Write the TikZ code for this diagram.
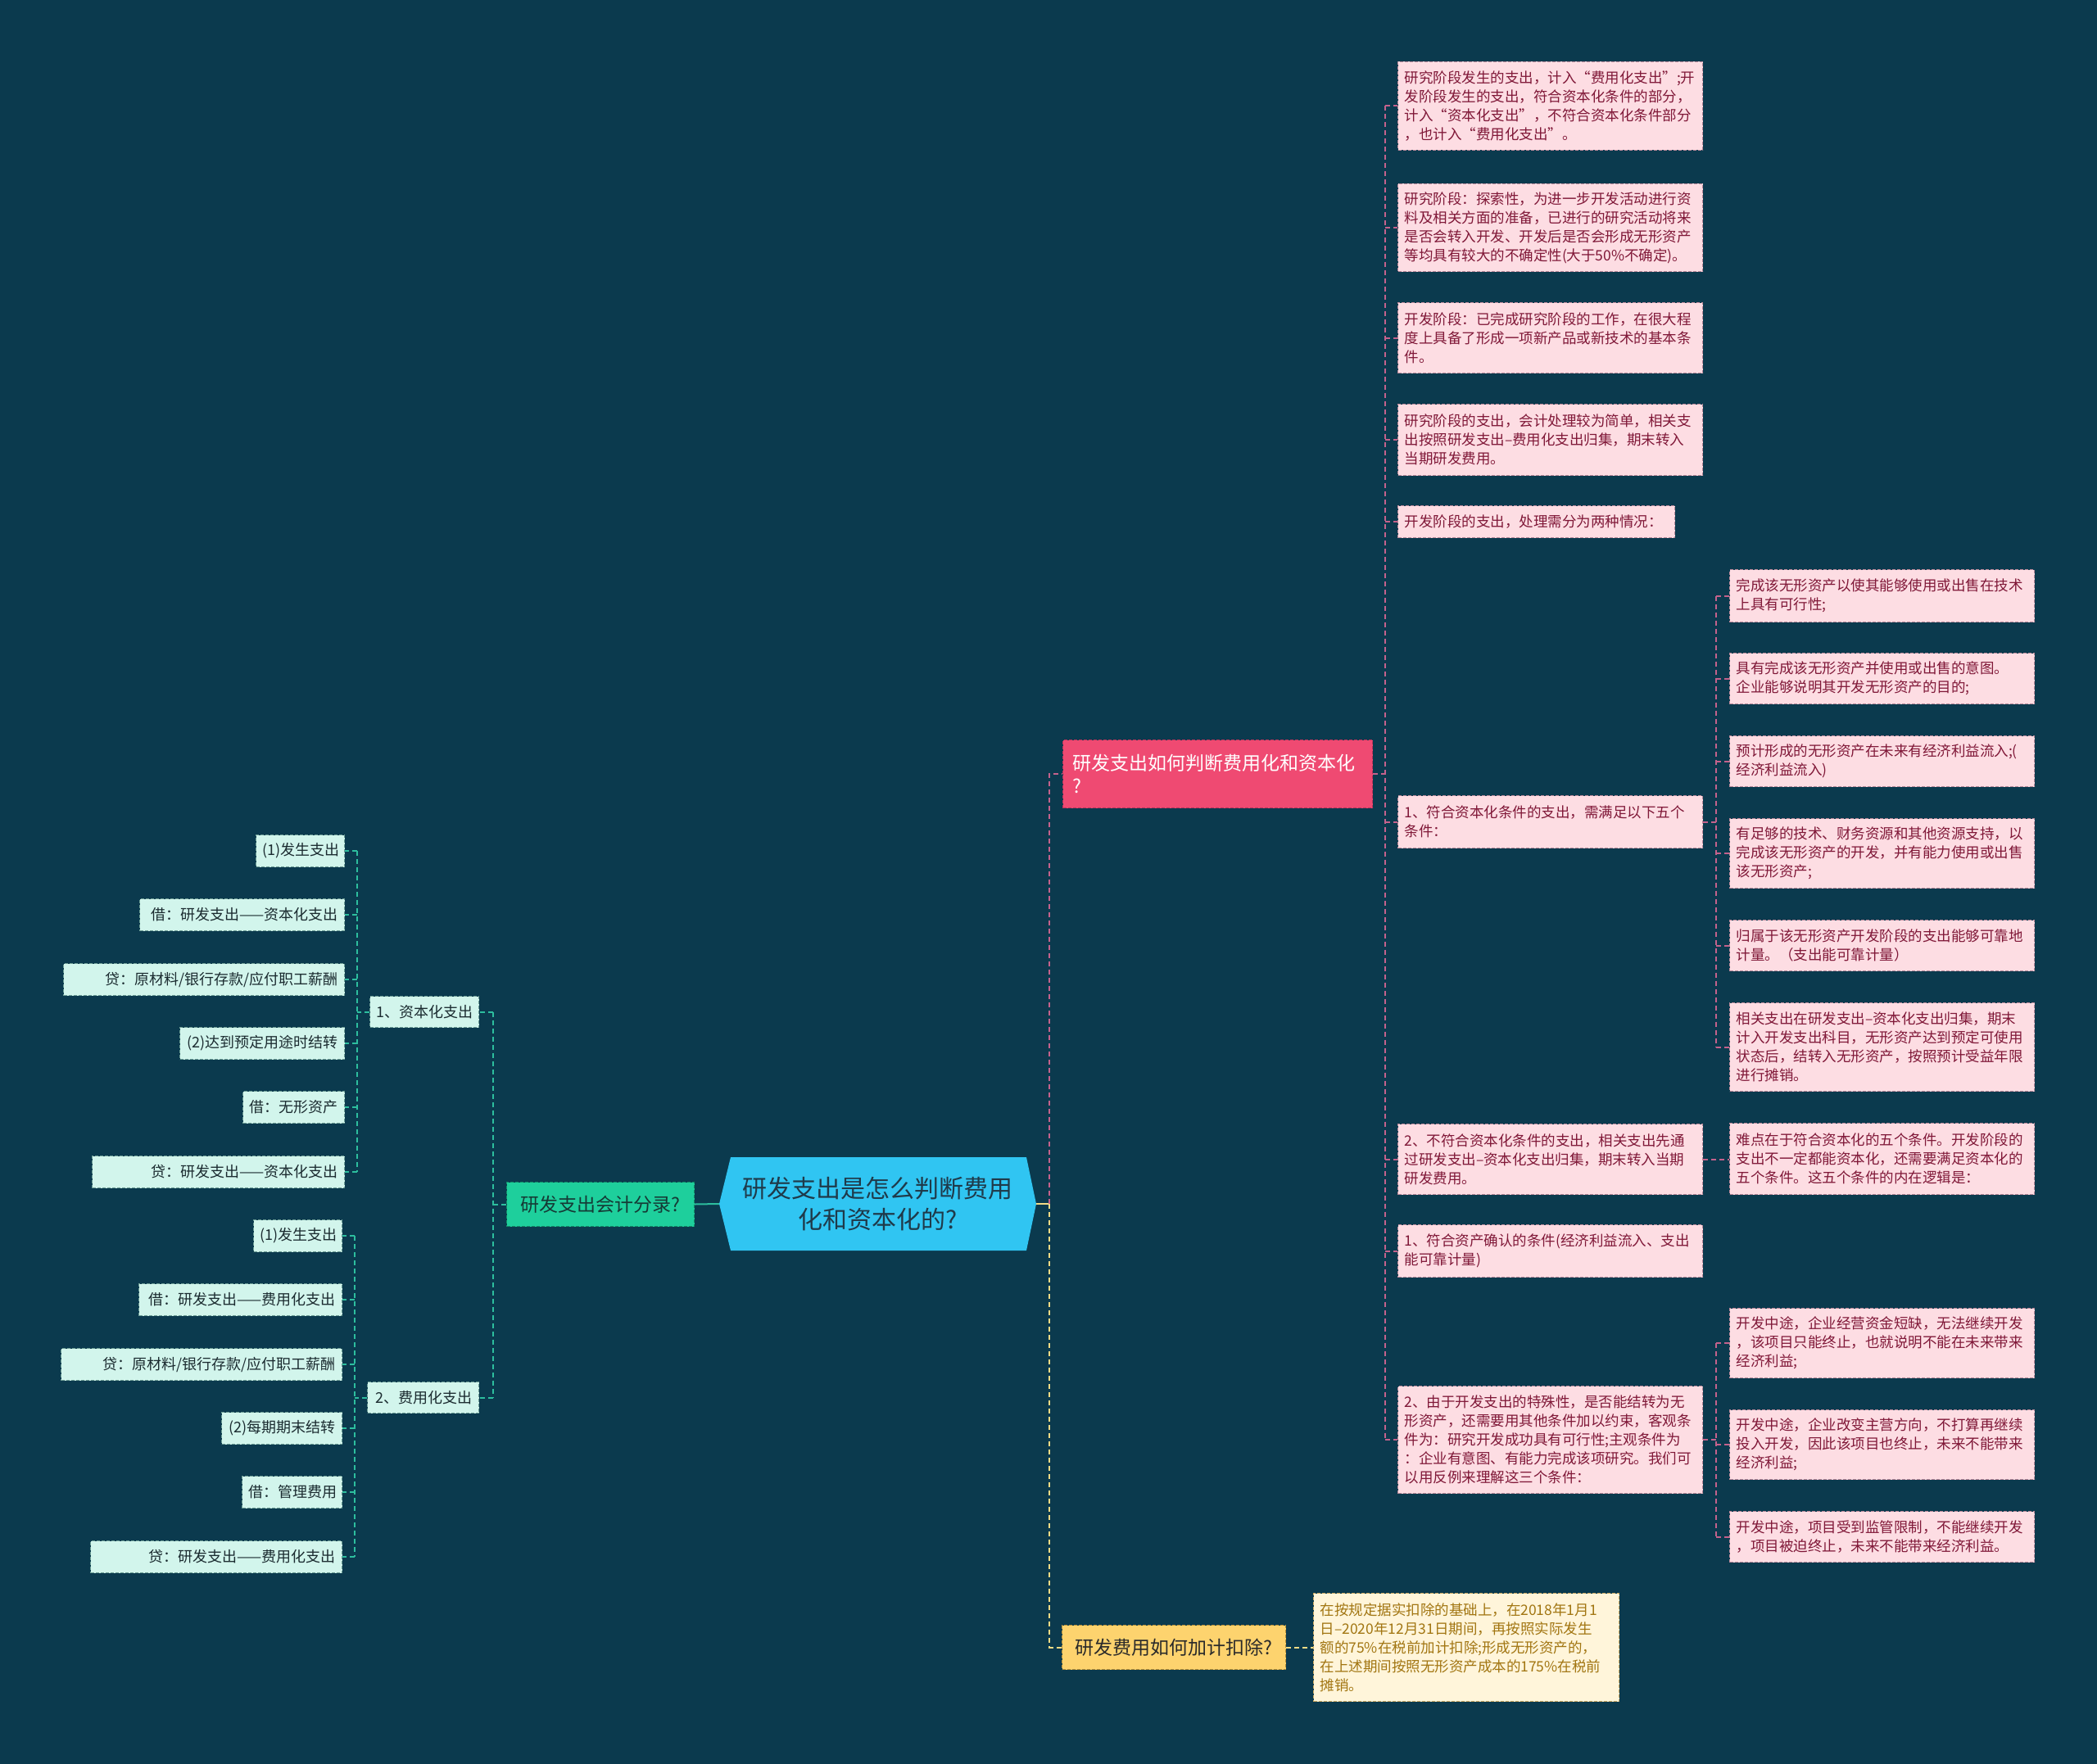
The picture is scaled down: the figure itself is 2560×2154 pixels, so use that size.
\documentclass[tikz,border=0pt]{standalone}
\usepackage{fontspec}
\setmainfont{Noto Sans CJK SC}
\definecolor{bg}{HTML}{0B3A4E}
\definecolor{centerfill}{HTML}{30C5F2}
\definecolor{centertext}{HTML}{1F3A4A}
\definecolor{pmfill}{HTML}{EF4A72}
\definecolor{pmborder}{HTML}{B8325A}
\definecolor{plfill}{HTML}{FDDDE3}
\definecolor{plborder}{HTML}{B9899A}
\definecolor{pltext}{HTML}{801838}
\definecolor{pline}{HTML}{C4628C}
\definecolor{mlfill}{HTML}{D2F5EC}
\definecolor{mlborder}{HTML}{6C9C94}
\definecolor{mltext}{HTML}{1B2B30}
\definecolor{tline}{HTML}{2DBE9E}
\definecolor{gmfill}{HTML}{1ECF9C}
\definecolor{gmborder}{HTML}{138A66}
\definecolor{gmtext}{HTML}{153A35}
\definecolor{ymfill}{HTML}{FDD36E}
\definecolor{ymborder}{HTML}{B8913A}
\definecolor{ymtext}{HTML}{2A2A2A}
\definecolor{ylfill}{HTML}{FFF5DA}
\definecolor{ylborder}{HTML}{C9A862}
\definecolor{yltext}{HTML}{A27612}
\definecolor{yline}{HTML}{F3DB85}
\tikzset{
  bordered/.style={draw, line width=1pt, dash pattern=on 4pt off 2pt, inner ysep=0pt},
  pleaf/.style={bordered, anchor=north west, fill=plfill, draw=plborder, text=pltext,
    align=left, inner xsep=8pt, text width=356pt, font=\fontsize{17.5}{23}\selectfont},
  mleaf/.style={bordered, anchor=north east, fill=mlfill, draw=mlborder, text=mltext,
    inner xsep=8pt, minimum height=39pt, align=right, font=\fontsize{18}{22}\selectfont},
  pmain/.style={bordered, anchor=north west, fill=pmfill, draw=pmborder, text=white,
    align=left, inner xsep=12pt, text width=354pt, minimum height=83pt,
    font=\fontsize{23}{28}\selectfont},
  gmain/.style={bordered, anchor=north west, fill=gmfill, draw=gmborder, text=gmtext,
    minimum width=229pt, minimum height=54pt, font=\fontsize{23}{28}\selectfont},
  ymain/.style={bordered, anchor=north west, fill=ymfill, draw=ymborder, text=ymtext,
    minimum width=273pt, minimum height=54pt, font=\fontsize{23}{28}\selectfont},
  yleaf/.style={bordered, anchor=north west, fill=ylfill, draw=ylborder, text=yltext,
    align=left, inner xsep=8pt, text width=357pt, font=\fontsize{17.5}{23}\selectfont},
  conn/.style={line width=2pt, dash pattern=on 6pt off 4pt},
  pc/.style={conn, draw=pline},
  tc/.style={conn, draw=tline},
  yc/.style={conn, draw=yline},
}
\begin{document}
\begin{tikzpicture}[x=1pt,y=-1pt]
\fill[bg] (0,0) rectangle (2560,2154);
\useasboundingbox (0,0) rectangle (2560,2154);

% center
\fill[centerfill] (878,1470) -- (892,1413) -- (1253,1413) -- (1265,1470) -- (1253,1527) -- (892,1527) -- cycle;
\node[minimum width=387pt, minimum height=114pt, inner sep=0pt, align=center, text=centertext,
  font=\fontsize{30}{38}\selectfont] (root) at (1071.5,1470) {研发支出是怎么判断费用\\化和资本化的?};

% level 1
\node[pmain] (pm) at (1297,903) {研发支出如何判断费用化和资本化\\?};
\node[gmain] (gm) at (618,1443) {研发支出会计分录?};
\node[ymain] (ym) at (1296,1984) {研发费用如何加计扣除?};

% yellow leaf
\node[yleaf, minimum height=132pt] (yl) at (1603,1945) {在按规定据实扣除的基础上，在2018年1月1\\日–2020年12月31日期间，再按照实际发生\\额的75\%在税前加计扣除;形成无形资产的，\\在上述期间按照无形资产成本的175\%在税前\\摊销。};

% left level 2
\node[mleaf, minimum height=38pt, text width=117pt] (c1) at (585,1216) {1、资本化支出};
\node[mleaf, minimum height=38pt, text width=120pt] (c2) at (585,1687) {2、费用化支出};

% capital leaves
\node[mleaf, text width=92pt] (ca1) at (421,1019) {(1)发生支出};
\node[mleaf, text width=234pt] (ca2) at (421,1097) {借：研发支出——资本化支出};
\node[mleaf, text width=327pt] (ca3) at (421,1176) {贷：原材料/银行存款/应付职工薪酬};
\node[mleaf, text width=185pt] (ca4) at (421,1254) {(2)达到预定用途时结转};
\node[mleaf, text width=108pt] (ca5) at (421,1332) {借：无形资产};
\node[mleaf, text width=292pt] (ca6) at (421,1411) {贷：研发支出——资本化支出};
% expense leaves
\node[mleaf, text width=92pt] (ea1) at (418,1489) {(1)发生支出};
\node[mleaf, text width=232pt] (ea2) at (418,1567) {借：研发支出——费用化支出};
\node[mleaf, text width=327pt] (ea3) at (418,1646) {贷：原材料/银行存款/应付职工薪酬};
\node[mleaf, text width=131pt] (ea4) at (418,1724) {(2)每期期末结转};
\node[mleaf, text width=106pt] (ea5) at (418,1802) {借：管理费用};
\node[mleaf, text width=291pt] (ea6) at (418,1881) {贷：研发支出——费用化支出};

% right column A
\node[pleaf, minimum height=108pt] (a1) at (1706,75) {研究阶段发生的支出，计入“费用化支出”;开\\发阶段发生的支出，符合资本化条件的部分，\\计入“资本化支出”，不符合资本化条件部分\\，也计入“费用化支出”。};
\node[pleaf, minimum height=107pt] (a2) at (1706,224) {研究阶段：探索性，为进一步开发活动进行资\\料及相关方面的准备，已进行的研究活动将来\\是否会转入开发、开发后是否会形成无形资产\\等均具有较大的不确定性(大于50\%不确定)。};
\node[pleaf, minimum height=86pt] (a3) at (1706,369) {开发阶段：已完成研究阶段的工作，在很大程\\度上具备了形成一项新产品或新技术的基本条\\件。};
\node[pleaf, minimum height=87pt] (a4) at (1706,493) {研究阶段的支出，会计处理较为简单，相关支\\出按照研发支出–费用化支出归集，期末转入\\当期研发费用。};
\node[pleaf, minimum height=39pt, text width=322pt] (a5) at (1706,617) {开发阶段的支出，处理需分为两种情况：};
\node[pleaf, minimum height=64pt] (a6) at (1706,971) {1、符合资本化条件的支出，需满足以下五个\\条件：};
\node[pleaf, minimum height=86pt] (a7) at (1706,1372) {2、不符合资本化条件的支出，相关支出先通\\过研发支出–资本化支出归集，期末转入当期\\研发费用。};
\node[pleaf, minimum height=64pt] (a8) at (1706,1495) {1、符合资产确认的条件(经济利益流入、支出\\能可靠计量)};
\node[pleaf, minimum height=131pt] (a9) at (1706,1692) {2、由于开发支出的特殊性，是否能结转为无\\形资产，还需要用其他条件加以约束，客观条\\件为：研究开发成功具有可行性;主观条件为\\：企业有意图、有能力完成该项研究。我们可\\以用反例来理解这三个条件：};

% right column B
\node[pleaf, minimum height=64pt] (b1) at (2111,695) {完成该无形资产以使其能够使用或出售在技术\\上具有可行性;};
\node[pleaf, minimum height=62pt] (b2) at (2111,797) {具有完成该无形资产并使用或出售的意图。\\企业能够说明其开发无形资产的目的;};
\node[pleaf, minimum height=62pt] (b3) at (2111,898) {预计形成的无形资产在未来有经济利益流入;(\\经济利益流入)};
\node[pleaf, minimum height=85pt] (b4) at (2111,999) {有足够的技术、财务资源和其他资源支持，以\\完成该无形资产的开发，并有能力使用或出售\\该无形资产;};
\node[pleaf, minimum height=62pt] (b5) at (2111,1123) {归属于该无形资产开发阶段的支出能够可靠地\\计量。（支出能可靠计量）};
\node[pleaf, minimum height=108pt] (b6) at (2111,1224) {相关支出在研发支出–资本化支出归集，期末\\计入开发支出科目，无形资产达到预定可使用\\状态后，结转入无形资产，按照预计受益年限\\进行摊销。};
\node[pleaf, minimum height=87pt] (b7) at (2111,1371) {难点在于符合资本化的五个条件。开发阶段的\\支出不一定都能资本化，还需要满足资本化的\\五个条件。这五个条件的内在逻辑是：};
\node[pleaf, minimum height=85pt] (b8) at (2111,1597) {开发中途，企业经营资金短缺，无法继续开发\\，该项目只能终止，也就说明不能在未来带来\\经济利益;};
\node[pleaf, minimum height=85pt] (b9) at (2111,1721) {开发中途，企业改变主营方向，不打算再继续\\投入开发，因此该项目也终止，未来不能带来\\经济利益;};
\node[pleaf, minimum height=62pt] (b10) at (2111,1845) {开发中途，项目受到监管限制，不能继续开发\\，项目被迫终止，未来不能带来经济利益。};

% ---- connectors ----
% center to green
\draw[line width=2pt, draw=tline] (root.west) -- (gm.east);
% green to level 2
\draw[tc] (gm.west) -- ++(-16,0) coordinate (sg);
\draw[tc] (sg |- c1.east) -- (sg |- c2.east);
\foreach \n in {c1,c2} \draw[tc] (sg |- \n.east) -- (\n.east);
% capital leaves
\draw[tc] (c1.west) -- ++(-15,0) coordinate (s1);
\draw[tc] (s1 |- ca1.east) -- (s1 |- ca6.east);
\foreach \n in {ca1,ca2,ca3,ca4,ca5,ca6} \draw[tc] (s1 |- \n.east) -- (\n.east);
% expense leaves
\draw[tc] (c2.west) -- ++(-15,0) coordinate (s2);
\draw[tc] (s2 |- ea1.east) -- (s2 |- ea6.east);
\foreach \n in {ea1,ea2,ea3,ea4,ea5,ea6} \draw[tc] (s2 |- \n.east) -- (\n.east);

% center to right
\draw[line width=2pt, draw=yline] (root.east) -- ++(16,0) coordinate (sr);
\draw[pc] (sr) -- (sr |- pm.west) -- (pm.west);
\draw[yc] (sr) -- (sr |- ym.west) -- (ym.west);
\draw[yc] (ym.east) -- (yl.west);

% pink main to column A
\draw[pc] (pm.east) -- ++(15,0) coordinate (sa);
\draw[pc] (sa |- a1.west) -- (sa |- a9.west);
\foreach \n in {a1,a2,a3,a4,a5,a6,a7,a8,a9} \draw[pc] (sa |- \n.west) -- (\n.west);

% a6 to b1..b6
\draw[pc] (a6.east) -- ++(16,0) coordinate (sb);
\draw[pc] (sb |- b1.west) -- (sb |- b6.west);
\foreach \n in {b1,b2,b3,b4,b5,b6} \draw[pc] (sb |- \n.west) -- (\n.west);
% a7 to b7
\draw[pc] (a7.east) -- (a7.east -| b7.west);
% a9 to b8..b10
\draw[pc] (a9.east) -- ++(16,0) coordinate (sc);
\draw[pc] (sc |- b8.west) -- (sc |- b10.west);
\foreach \n in {b8,b9,b10} \draw[pc] (sc |- \n.west) -- (\n.west);
\end{tikzpicture}
\end{document}
